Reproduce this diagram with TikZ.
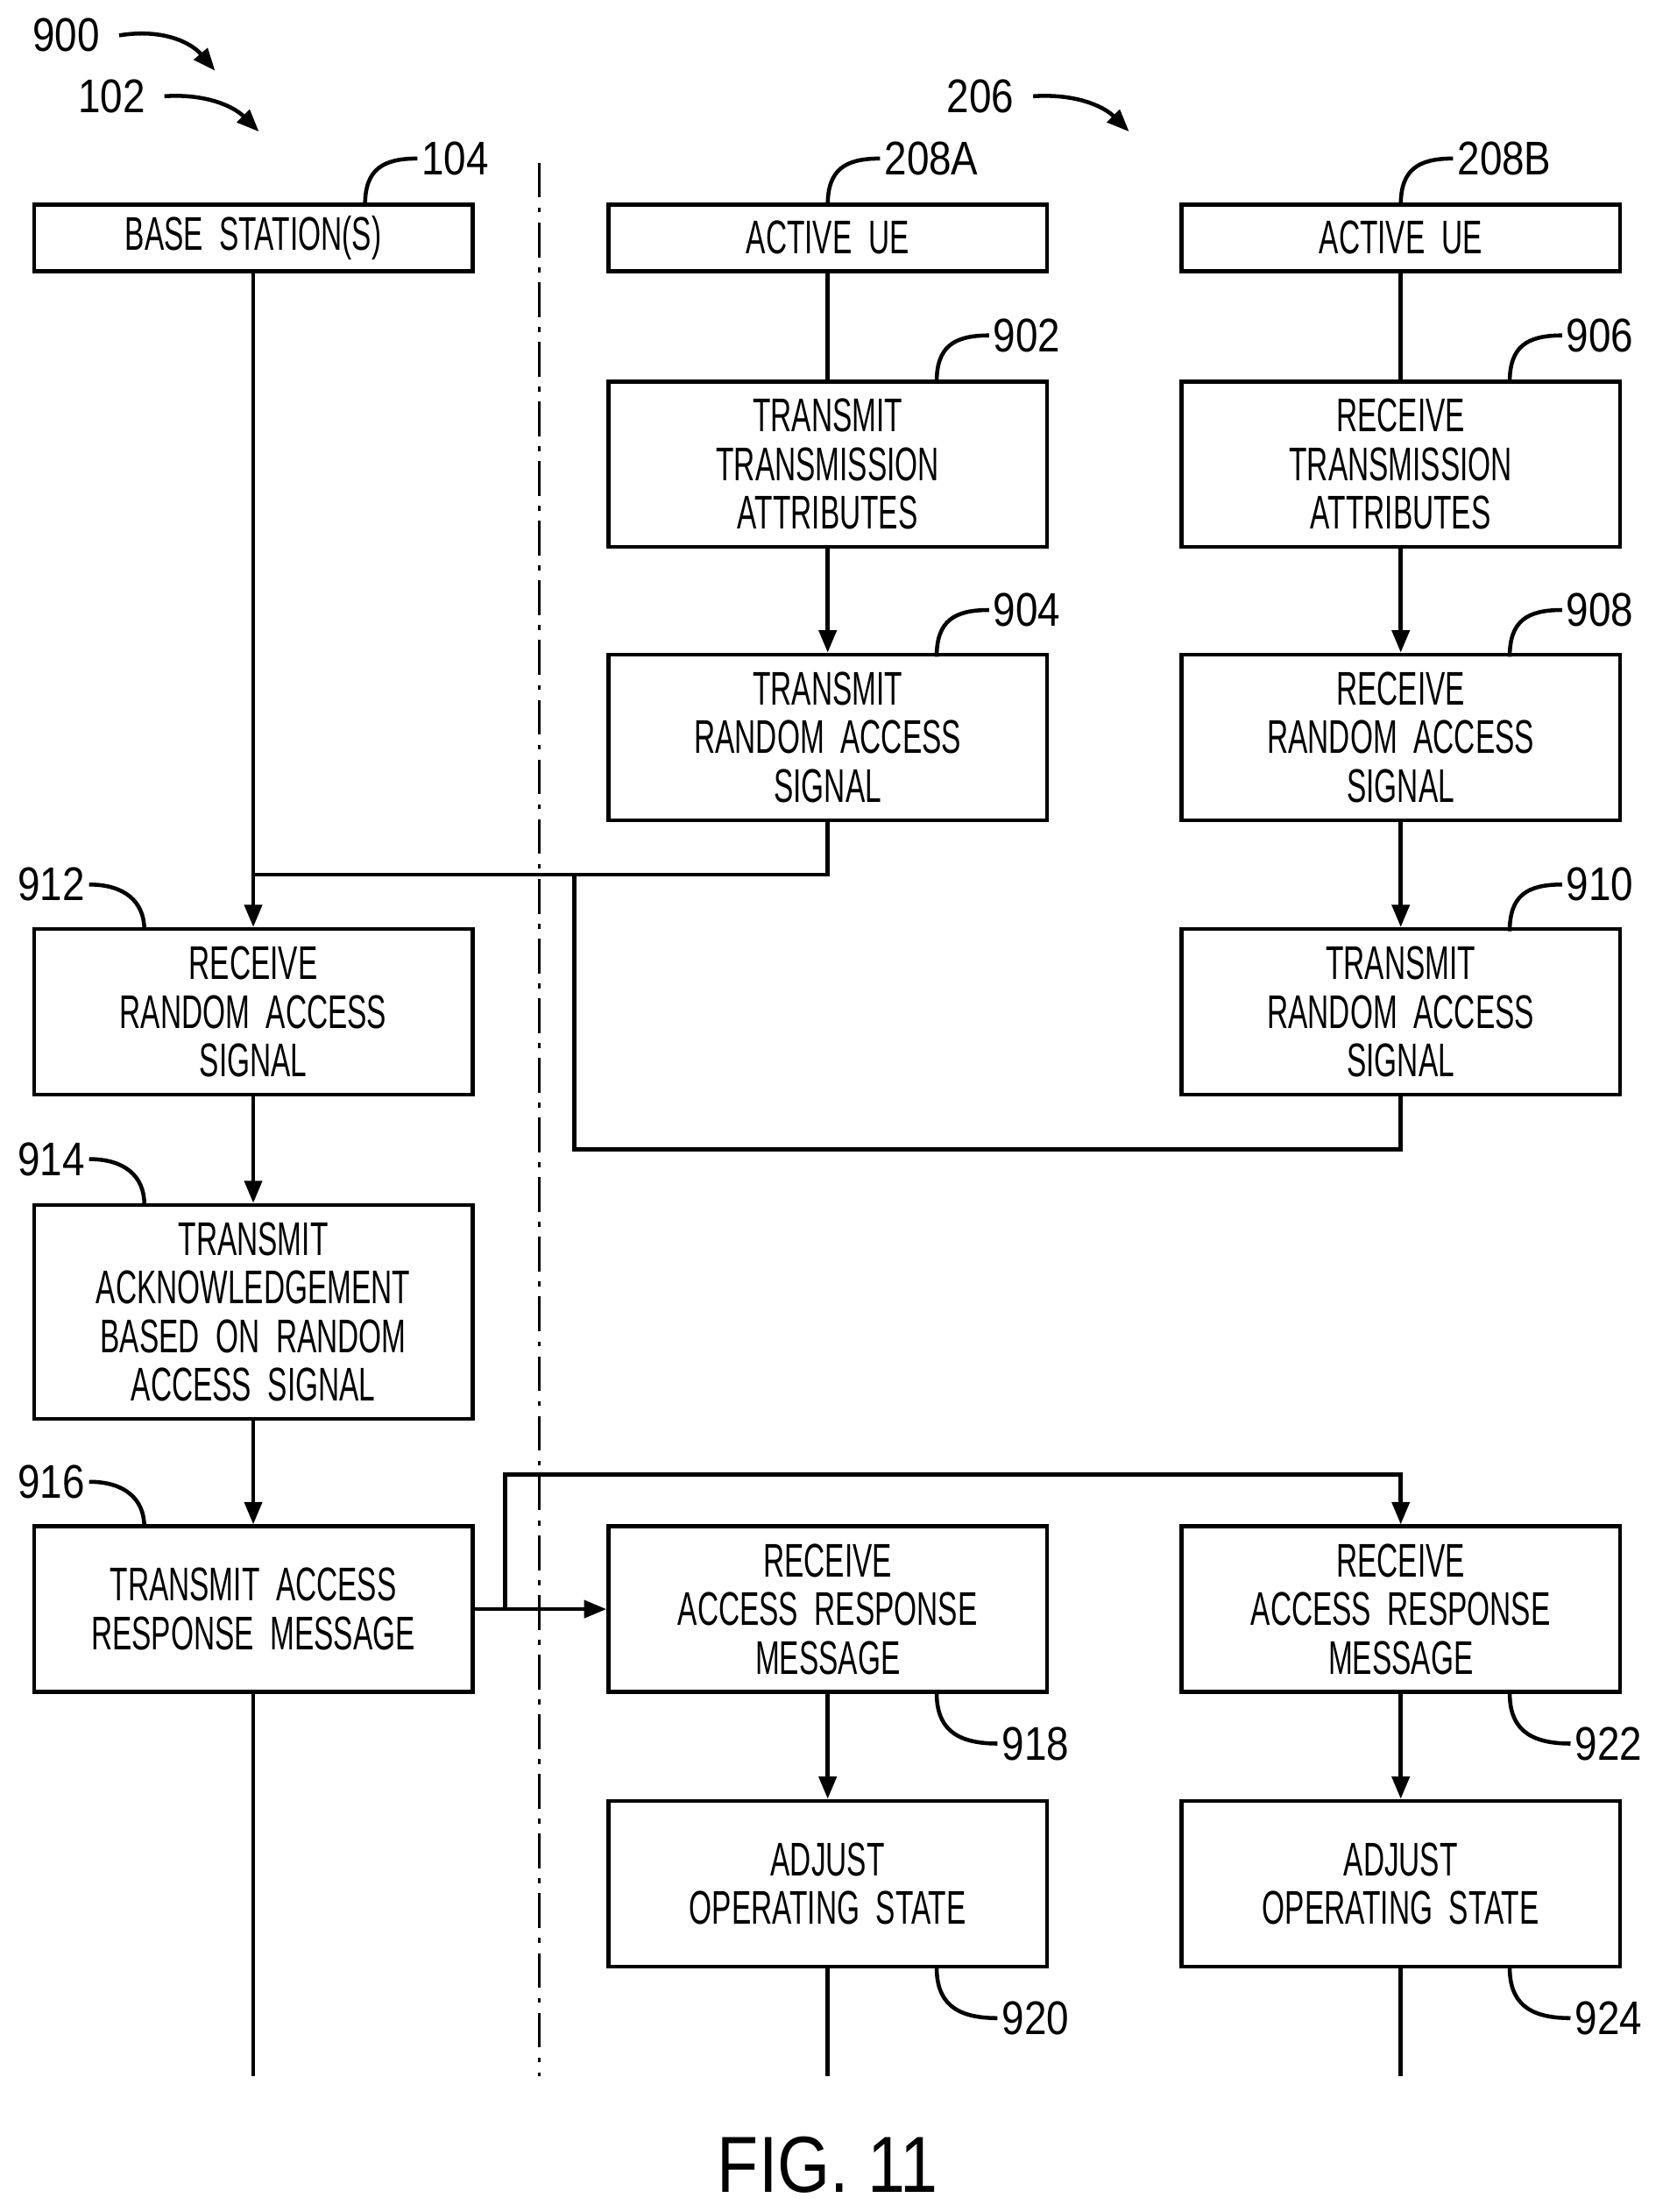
\documentclass[tikz,border=0pt]{standalone}
\usepackage{fontspec}
\newfontfamily\boxfont{Liberation Sans}[FakeStretch=0.62]
\newfontfamily\numfont{Liberation Sans}[FakeStretch=0.85]
\usetikzlibrary{arrows.meta}
\begin{document}
\begin{tikzpicture}[x=0.02cm,y=-0.02cm,line width=1.6pt,
  box/.style={draw,align=center,minimum width=6.2cm,inner sep=0pt,
    font=\boxfont\fontsize{19}{19.6}\selectfont},
  hbox/.style={box,minimum height=0.94cm},
  sbox/.style={box,minimum height=2.34cm},
  lbox/.style={box,minimum height=3.02cm},
  num/.style={font=\numfont\fontsize{19}{20}\selectfont,inner sep=1pt},
  arr/.style={-{Triangle[length=9pt,width=7pt]}}]
\useasboundingbox (0,0) rectangle (1185,1563);

% column heads
\node[hbox] (bs)  at (179,168) {BASE\ \ STATION(S)};
\node[hbox] (uea) at (585,168) {ACTIVE\ \ UE};
\node[hbox] (ueb) at (990,168) {ACTIVE\ \ UE};

% steps
\node[sbox] (s902) at (585,328) {TRANSMIT\\TRANSMISSION\\ATTRIBUTES};
\node[sbox] (s904) at (585,521) {TRANSMIT\\RANDOM\ \ ACCESS\\SIGNAL};
\node[sbox] (s906) at (990,328) {RECEIVE\\TRANSMISSION\\ATTRIBUTES};
\node[sbox] (s908) at (990,521) {RECEIVE\\RANDOM\ \ ACCESS\\SIGNAL};
\node[sbox] (s910) at (990,715) {TRANSMIT\\RANDOM\ \ ACCESS\\SIGNAL};
\node[sbox] (s912) at (179,715) {RECEIVE\\RANDOM\ \ ACCESS\\SIGNAL};
\node[lbox] (s914) at (179,927) {TRANSMIT\\ACKNOWLEDGEMENT\\BASED\ \ ON\ \ RANDOM\\ACCESS\ \ SIGNAL};
\node[sbox] (s916) at (179,1137) {TRANSMIT\ \ ACCESS\\RESPONSE\ \ MESSAGE};
\node[sbox] (s918) at (585,1137) {RECEIVE\\ACCESS\ \ RESPONSE\\MESSAGE};
\node[sbox] (s920) at (585,1331) {ADJUST\\OPERATING\ \ STATE};
\node[sbox] (s922) at (990,1137) {RECEIVE\\ACCESS\ \ RESPONSE\\MESSAGE};
\node[sbox] (s924) at (990,1331) {ADJUST\\OPERATING\ \ STATE};

% divider and lifelines
\draw[line width=1.2pt,dash pattern=on 14pt off 4pt on 2pt off 4pt] (381,115) -- (381,1467);
\coordinate (endbs) at (179,1467);
\coordinate (enda) at (585,1467);
\coordinate (endb) at (990,1467);
\draw (s916) -- (endbs);
\draw (s920) -- (enda);
\draw (s924) -- (endb);
\draw (uea) -- (s902);
\draw (ueb) -- (s906);

% flow
\draw[arr] (s902) -- (s904);
\draw[arr] (s906) -- (s908);
\draw[arr] (s908) -- (s910);
\draw[arr] (bs) -- (s912);
\draw (s904.south) |- (179,618);
\draw (s910.south) |- (406,812) -- (406,618);
\draw[arr] (s912) -- (s914);
\draw[arr] (s914) -- (s916);
\draw[arr] (s916) -- (s918);
\draw[arr] (357,1137) |- (990,1042) -- (s922.north);
\draw[arr] (s918) -- (s920);
\draw[arr] (s922) -- (s924);

% reference numerals
\node[num,anchor=west] (n900) at (20,25) {900};
\node[num,anchor=west] (n102) at (52,68) {102};
\node[num,anchor=west] (n206) at (666,68) {206};
\draw[arr] ([xshift=6pt]n900.east) .. controls (115,20) and (135,30) .. (152,50);
\draw[arr] ([xshift=6pt]n102.east) .. controls (145,66) and (165,75) .. (183,93);
\draw[arr] ([xshift=6pt]n206.east) .. controls (760,66) and (780,75) .. (798,93);

\foreach \nm/\lx/\ly/\bx in {104/295/112/258, 208A/622/112/585, 208B/1027/112/990,
  902/699/237/662, 906/1104/237/1067, 904/699/431/662, 908/1104/431/1067, 910/1104/625/1067}{
  \node[num,anchor=west] (n\nm) at (\lx,\ly) {\nm};
  \draw (\bx,{\ly+33}) .. controls (\bx,{\ly+8}) and ({\bx+12},\ly) .. (n\nm.west);
}
\foreach \nm/\ly in {912/625, 914/819, 916/1047}{
  \node[num,anchor=east] (n\nm) at (63,\ly) {\nm};
  \draw (n\nm.east) .. controls (88,\ly) and (102,{\ly+12}) .. (102,{\ly+32});
}
\foreach \nm/\ly/\bx in {918/1232/662, 922/1232/1067, 920/1426/662, 924/1426/1067}{
  \node[num,anchor=west] (n\nm) at ({\bx+43},\ly) {\nm};
  \draw (\bx,{\ly-36}) .. controls (\bx,{\ly-12}) and ({\bx+12},\ly) .. (n\nm.west);
}

\node[font=\numfont\fontsize{32}{32}\selectfont] (fig) at (585,1530) {FIG. 11};
\end{tikzpicture}
\end{document}
